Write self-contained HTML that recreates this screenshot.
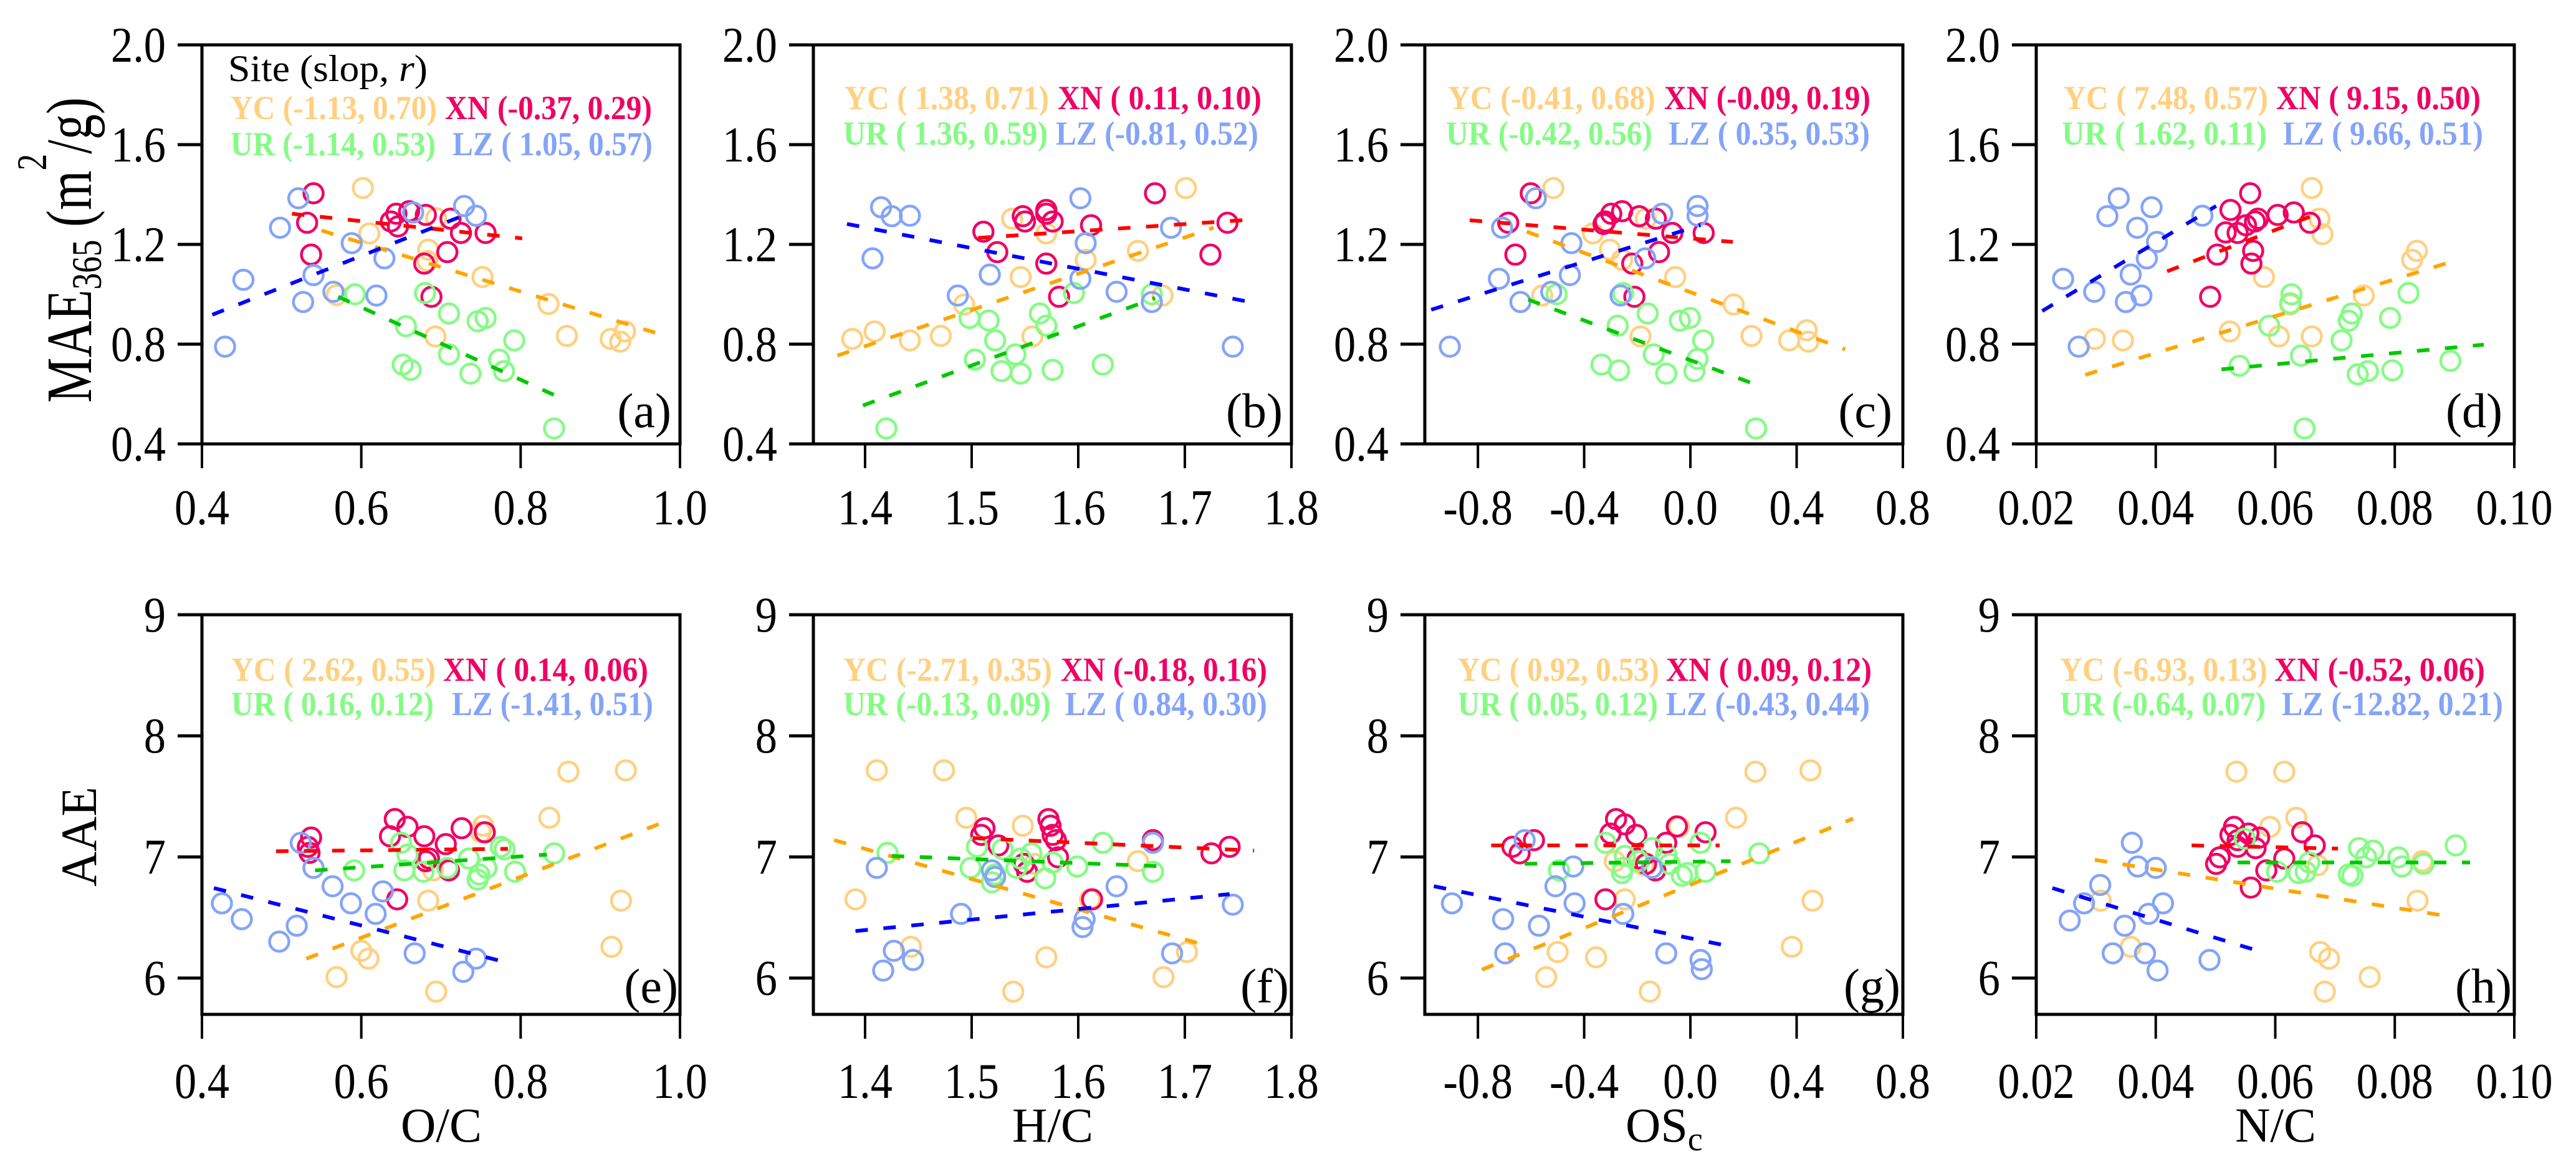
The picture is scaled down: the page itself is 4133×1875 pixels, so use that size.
<!DOCTYPE html>
<html><head><meta charset="utf-8"><style>
html,body{margin:0;padding:0;background:#fff}
svg{display:block}
svg text{font-family:"Liberation Serif","DejaVu Serif",serif}
</style></head><body>
<svg id="fig" xmlns="http://www.w3.org/2000/svg" width="4133" height="1875" viewBox="0 0 4133 1875" font-family="Liberation Serif, DejaVu Serif, serif">
<rect width="4133" height="1875" fill="#fff"/>
<g id="ytitle1" transform="translate(146,401) rotate(-90)">
<text id="maeTitle" text-anchor="middle" font-size="104" fill="#000">MAE<tspan font-size="68" dy="16">365</tspan><tspan dy="-16"> (m</tspan><tspan font-size="68" dy="-72">2</tspan><tspan dy="72">/g)</tspan></text>
</g>
<text transform="translate(154,1342) rotate(-90)" text-anchor="middle" font-size="82" textLength="160" lengthAdjust="spacingAndGlyphs">AAE</text>
<text x="708" y="1831" text-anchor="middle" font-size="78">O/C</text>
<text x="1689" y="1831" text-anchor="middle" font-size="78">H/C</text>
<text x="2670" y="1831" text-anchor="middle" font-size="78">OS<tspan font-size="54" dy="14">c</tspan></text>
<text x="3651" y="1831" text-anchor="middle" font-size="78">N/C</text>
<text x="366" y="130" font-size="60" textLength="320" lengthAdjust="spacingAndGlyphs">Site (slop, <tspan font-style="italic">r</tspan>)</text>
</svg>
<script>
const a_YC_x=[0.602,0.610,0.694,0.684,0.683,0.752,0.835,0.858,0.913,0.925,0.931,0.569,0.693];
const a_YC_y=[1.426,1.244,1.305,1.179,1.133,1.069,0.961,0.833,0.821,0.810,0.851,0.997,0.831];
const a_XN_x=[0.540,0.532,0.537,0.637,0.644,0.646,0.660,0.681,0.712,0.725,0.756,0.708,0.679,0.688];
const a_XN_y=[1.405,1.287,1.159,1.292,1.323,1.272,1.333,1.318,1.303,1.246,1.246,1.169,1.123,0.990];
const a_UR_x=[0.592,0.680,0.710,0.746,0.756,0.656,0.792,0.710,0.652,0.662,0.737,0.773,0.779,0.842];
const a_UR_y=[1.000,1.005,0.923,0.892,0.905,0.872,0.815,0.759,0.718,0.697,0.682,0.738,0.692,0.462];
const a_LZ_x=[0.521,0.498,0.588,0.629,0.540,0.452,0.527,0.565,0.619,0.429,0.729,0.744,0.665];
const a_LZ_y=[1.385,1.267,1.205,1.144,1.077,1.058,0.969,1.010,0.995,0.790,1.354,1.315,1.328];
const a_fit_YC=[0.550,1.256,0.979,0.836];
const a_fit_XN=[0.513,1.323,0.802,1.224];
const a_fit_UR=[0.571,0.990,0.856,0.576];
const a_fit_LZ=[0.413,0.918,0.738,1.328];
const b_YC_x=[1.701,1.538,1.570,1.656,1.607,1.546,1.679,1.493,1.388,1.409,1.442,1.471,1.557];
const b_YC_y=[1.426,1.303,1.244,1.174,1.138,1.069,0.995,0.959,0.821,0.851,0.815,0.833,0.831];
const b_XN_x=[1.511,1.548,1.550,1.570,1.570,1.576,1.612,1.672,1.740,1.524,1.570,1.724,1.582];
const b_XN_y=[1.251,1.313,1.292,1.338,1.323,1.292,1.277,1.405,1.287,1.169,1.123,1.159,0.990];
const b_UR_x=[1.596,1.669,1.564,1.570,1.498,1.516,1.522,1.541,1.503,1.528,1.546,1.576,1.623,1.420];
const b_UR_y=[1.005,1.000,0.923,0.874,0.905,0.895,0.815,0.759,0.738,0.692,0.682,0.697,0.718,0.462];
const b_LZ_x=[1.415,1.425,1.442,1.407,1.602,1.607,1.687,1.517,1.487,1.602,1.636,1.669,1.745];
const b_LZ_y=[1.349,1.313,1.315,1.144,1.385,1.205,1.267,1.079,0.995,1.062,1.010,0.969,0.790];
const b_fit_YC=[1.374,0.754,1.727,1.267];
const b_fit_XN=[1.506,1.226,1.754,1.297];
const b_fit_UR=[1.398,0.554,1.672,0.985];
const b_fit_LZ=[1.383,1.282,1.761,0.969];
const c_YC_x=[-0.516,-0.367,-0.168,-0.303,-0.257,-0.057,0.163,0.230,0.372,0.444,0.438,-0.558,-0.188];
const c_YC_y=[1.426,1.244,1.303,1.179,1.138,1.069,0.959,0.833,0.815,0.810,0.856,0.995,0.831];
const c_XN_x=[-0.601,-0.686,-0.659,-0.321,-0.298,-0.257,-0.193,-0.130,-0.068,0.050,-0.118,-0.219,-0.211,-0.327];
const c_XN_y=[1.405,1.287,1.159,1.292,1.323,1.333,1.313,1.303,1.246,1.246,1.169,1.123,0.990,1.282];
const c_UR_x=[-0.254,-0.504,-0.161,-0.040,-0.002,-0.274,0.048,-0.138,-0.335,-0.269,-0.091,0.027,0.015,0.247];
const c_UR_y=[1.005,1.000,0.923,0.894,0.905,0.874,0.815,0.759,0.718,0.695,0.682,0.741,0.692,0.462];
const c_LZ_x=[-0.582,-0.709,-0.448,-0.170,-0.454,-0.721,-0.640,-0.524,-0.263,-0.906,0.027,0.027,-0.106];
const c_LZ_y=[1.385,1.267,1.205,1.144,1.077,1.062,0.969,1.010,0.995,0.790,1.354,1.315,1.323];
const c_fit_YC=[-0.616,1.251,0.583,0.779];
const c_fit_XN=[-0.831,1.297,0.160,1.210];
const c_fit_UR=[-0.611,0.979,0.276,0.626];
const c_fit_LZ=[-0.976,0.938,0.038,1.277];
const d_YC_x=[0.0661,0.0674,0.0679,0.0837,0.0829,0.0581,0.0748,0.0625,0.0524,0.0661,0.0606,0.0298,0.0345];
const d_YC_y=[1.426,1.303,1.241,1.174,1.138,1.069,0.995,0.959,0.851,0.831,0.831,0.821,0.815];
const d_XN_x=[0.0558,0.0525,0.0517,0.0537,0.0551,0.0566,0.0571,0.0604,0.0631,0.0658,0.0503,0.0563,0.0560,0.0491];
const d_XN_y=[1.405,1.338,1.248,1.246,1.277,1.292,1.303,1.318,1.328,1.287,1.159,1.174,1.123,0.990];
const d_UR_x=[0.0627,0.0625,0.0728,0.0723,0.0823,0.0792,0.0590,0.0711,0.0643,0.0540,0.0738,0.0755,0.0796,0.0893,0.0649];
const d_UR_y=[1.000,0.964,0.923,0.894,1.005,0.905,0.874,0.815,0.754,0.713,0.679,0.692,0.695,0.733,0.462];
const d_LZ_x=[0.0338,0.0319,0.0393,0.0369,0.0402,0.0385,0.0478,0.0358,0.0245,0.0297,0.0350,0.0376,0.0271];
const d_LZ_y=[1.385,1.313,1.349,1.267,1.210,1.144,1.315,1.079,1.062,1.010,0.969,0.995,0.790];
const d_fit_YC=[0.0282,0.677,0.0905,1.138];
const d_fit_XN=[0.0419,1.092,0.0671,1.323];
const d_fit_UR=[0.0510,0.699,0.0949,0.798];
const d_fit_LZ=[0.0210,0.933,0.0501,1.354];
const e_YC_x=[0.860,0.932,0.836,0.753,0.684,0.926,0.914,0.600,0.609,0.569,0.694,0.750,0.690];
const e_YC_y=[7.704,7.715,7.324,7.258,6.639,6.639,6.258,6.225,6.160,6.008,5.888,7.204,6.889];
const e_XN_x=[0.537,0.533,0.535,0.636,0.642,0.658,0.679,0.706,0.726,0.755,0.685,0.681,0.710,0.645];
const e_XN_y=[7.160,7.084,7.034,7.171,7.313,7.248,7.171,7.106,7.237,7.204,6.987,6.965,6.889,6.650];
const e_UR_x=[0.775,0.842,0.591,0.654,0.678,0.708,0.735,0.748,0.757,0.793,0.780,0.650,0.658,0.746];
const e_UR_y=[7.084,7.030,6.889,6.889,6.878,6.910,6.987,6.856,6.910,6.878,7.063,7.117,7.019,6.813];
const e_LZ_x=[0.524,0.540,0.564,0.425,0.450,0.587,0.627,0.519,0.497,0.618,0.667,0.728,0.744];
const e_LZ_y=[7.117,6.910,6.758,6.617,6.486,6.617,6.715,6.432,6.301,6.530,6.204,6.051,6.160];
const e_fit_YC=[0.531,6.160,0.990,7.313];
const e_fit_XN=[0.493,7.047,0.784,7.067];
const e_fit_UR=[0.542,6.889,0.833,7.019];
const e_fit_LZ=[0.415,6.743,0.777,6.138];
const f_YC_x=[1.411,1.474,1.495,1.548,1.656,1.559,1.391,1.611,1.443,1.702,1.570,1.680,1.539];
const f_YC_y=[7.715,7.715,7.324,7.258,6.965,6.943,6.650,6.650,6.258,6.215,6.171,6.008,5.888];
const f_XN_x=[1.512,1.509,1.525,1.572,1.574,1.576,1.579,1.670,1.725,1.742,1.549,1.552,1.581,1.613];
const f_XN_y=[7.237,7.182,7.095,7.313,7.258,7.182,7.139,7.139,7.030,7.084,6.943,6.878,6.997,6.650];
const f_UR_x=[1.421,1.505,1.529,1.623,1.499,1.522,1.546,1.576,1.599,1.670,1.569,1.519,1.556,1.542];
const f_UR_y=[7.034,7.084,7.063,7.117,6.910,6.856,6.987,6.954,6.921,6.878,6.824,6.791,7.030,6.910];
const f_LZ_x=[1.411,1.490,1.519,1.522,1.636,1.606,1.604,1.670,1.745,1.688,1.427,1.445,1.417];
const f_LZ_y=[6.910,6.530,6.889,6.834,6.758,6.486,6.421,7.117,6.606,6.204,6.225,6.149,6.062];
const f_fit_YC=[1.371,7.139,1.720,6.269];
const f_fit_XN=[1.501,7.156,1.765,7.052];
const f_fit_UR=[1.425,7.008,1.684,6.921];
const f_fit_LZ=[1.391,6.388,1.742,6.693];
const g_YC_x=[0.245,0.452,0.172,-0.043,-0.247,0.460,0.382,-0.500,-0.355,-0.543,-0.153,-0.285,-0.177];
const g_YC_y=[7.704,7.715,7.324,7.248,6.650,6.639,6.258,6.215,6.171,6.008,5.888,6.965,6.932];
const g_XN_x=[-0.670,-0.643,-0.589,-0.280,-0.247,-0.204,-0.301,-0.091,-0.051,0.057,-0.167,-0.132,-0.199,-0.320];
const g_XN_y=[7.084,7.030,7.139,7.313,7.269,7.182,7.193,7.117,7.252,7.204,6.943,6.889,6.987,6.650];
const g_UR_x=[-0.320,0.038,0.259,-0.247,-0.145,-0.091,-0.078,-0.495,-0.253,-0.011,0.057,-0.032,-0.258,-0.194];
const g_UR_y=[7.117,7.117,7.030,7.008,7.073,7.019,6.943,6.889,6.910,6.867,6.878,6.845,6.867,6.965];
const g_LZ_x=[-0.624,-0.898,-0.705,-0.570,-0.508,-0.441,-0.436,-0.253,-0.697,-0.091,0.038,0.043,-0.145];
const g_LZ_y=[7.139,6.617,6.486,6.432,6.758,6.921,6.617,6.530,6.204,6.204,6.149,6.073,6.910];
const g_fit_YC=[-0.785,6.069,0.613,7.317];
const g_fit_XN=[-0.750,7.095,0.110,7.095];
const g_fit_UR=[-0.624,6.943,0.151,6.965];
const g_fit_LZ=[-0.966,6.758,0.124,6.273];
const h_YC_x=[0.0535,0.0615,0.0635,0.0591,0.0846,0.0671,0.0838,0.0308,0.0675,0.0690,0.0358,0.0758,0.0683];
const h_YC_y=[7.704,7.704,7.324,7.248,6.965,6.932,6.639,6.639,6.215,6.160,6.258,6.008,5.888];
const h_XN_x=[0.0531,0.0525,0.0555,0.0573,0.0567,0.0645,0.0666,0.0507,0.0501,0.0615,0.0585,0.0559,0.0537,0.0537];
const h_XN_y=[7.248,7.182,7.193,7.160,7.073,7.204,7.095,6.997,6.943,6.987,6.889,6.747,7.084,7.139];
const h_UR_x=[0.0549,0.0902,0.0740,0.0764,0.0752,0.0806,0.0812,0.0848,0.0657,0.0651,0.0603,0.0639,0.0723,0.0729];
const h_UR_y=[7.150,7.095,7.073,7.052,6.997,6.997,6.921,6.943,6.954,6.878,6.878,6.867,6.856,6.845];
const h_LZ_x=[0.0360,0.0370,0.0400,0.0307,0.0280,0.0256,0.0348,0.0388,0.0412,0.0328,0.0382,0.0403,0.0490];
const h_LZ_y=[7.117,6.921,6.910,6.769,6.617,6.475,6.432,6.530,6.617,6.204,6.204,6.062,6.149];
const h_fit_YC=[0.0298,6.976,0.0878,6.519];
const h_fit_XN=[0.0460,7.095,0.0705,7.069];
const h_fit_UR=[0.0537,6.954,0.0926,6.954];
const h_fit_LZ=[0.0227,6.743,0.0571,6.225];

const xTicksOC=[0.4,0.6,0.8,1.0];
const xTickLabelsOC=["0.4","0.6","0.8","1.0"];
const xTicksHC=[1.4,1.5,1.6,1.7,1.8];
const xTickLabelsHC=["1.4","1.5","1.6","1.7","1.8"];
const xTicksOS=[-0.8,-0.4,0.0,0.4,0.8];
const xTickLabelsOS=["-0.8","-0.4","0.0","0.4","0.8"];
const xTicksNC=[0.02,0.04,0.06,0.08,0.10];
const xTickLabelsNC=["0.02","0.04","0.06","0.08","0.10"];
const yTicksMAE=[0.4,0.8,1.2,1.6,2.0];
const yTickLabelsMAE=["0.4","0.8","1.2","1.6","2.0"];
const yTicksAAE=[6,7,8,9];
const yTickLabelsAAE=["6","7","8","9"];

const legendA=["YC (-1.13, 0.70)","XN (-0.37, 0.29)","UR (-1.14, 0.53)","LZ ( 1.05, 0.57)"];
const legendB=["YC ( 1.38, 0.71)","XN ( 0.11, 0.10)","UR ( 1.36, 0.59)","LZ (-0.81, 0.52)"];
const legendC=["YC (-0.41, 0.68)","XN (-0.09, 0.19)","UR (-0.42, 0.56)","LZ ( 0.35, 0.53)"];
const legendD=["YC ( 7.48, 0.57)","XN ( 9.15, 0.50)","UR ( 1.62, 0.11)","LZ ( 9.66, 0.51)"];
const legendE=["YC ( 2.62, 0.55)","XN ( 0.14, 0.06)","UR ( 0.16, 0.12)","LZ (-1.41, 0.51)"];
const legendF=["YC (-2.71, 0.35)","XN (-0.18, 0.16)","UR (-0.13, 0.09)","LZ ( 0.84, 0.30)"];
const legendG=["YC ( 0.92, 0.53)","XN ( 0.09, 0.12)","UR ( 0.05, 0.12)","LZ (-0.43, 0.44)"];
const legendH=["YC (-6.93, 0.13)","XN (-0.52, 0.06)","UR (-0.64, 0.07)","LZ (-12.82, 0.21)"];

const NS="http://www.w3.org/2000/svg";
const svg=document.getElementById('fig');
const SITES=["YC","XN","UR","LZ"];
const PT_COL={YC:"#FFD080",XN:"#F00062",UR:"#84FC84",LZ:"#84A4F8"};
const LN_COL={YC:"#FFA500",XN:"#FF0000",UR:"#00C800",LZ:"#0000FF"};
function mk(tag,attrs,parent){const e=document.createElementNS(NS,tag);for(const k in attrs)e.setAttribute(k,attrs[k]);(parent||svg).appendChild(e);return e;}
function squeeze(t,f){try{const w=t.getComputedTextLength();if(w>0){t.setAttribute('textLength',(w*f).toFixed(1));t.setAttribute('lengthAdjust','spacingAndGlyphs');}}catch(e){}}

// fit MAE title to measured span
(function(){const t=document.getElementById('maeTitle');try{const w=t.getComputedTextLength();if(w>0){t.parentNode.setAttribute('transform','translate(146,401) rotate(-90) scale('+(490/w).toFixed(3)+',1)');}}catch(e){}})();

const W=767;
const panels=[
 {id:"a",left:324,top:72,bottom:712,xr:[0.4,1.0],yr:[0.4,2.0],xt:xTicksOC,xl:xTickLabelsOC,yt:yTicksMAE,yl:yTickLabelsMAE,leg:legendA,ly:[191,249],lx:[[370,701],[714,1046],[370,699],[726,1047]],pl:[1077,685],
  pts:{YC:[a_YC_x,a_YC_y],XN:[a_XN_x,a_XN_y],UR:[a_UR_x,a_UR_y],LZ:[a_LZ_x,a_LZ_y]},fit:{YC:a_fit_YC,XN:a_fit_XN,UR:a_fit_UR,LZ:a_fit_LZ}},
 {id:"b",left:1305,top:72,bottom:712,xr:[1.3515,1.8],yr:[0.4,2.0],xt:xTicksHC,xl:xTickLabelsHC,yt:yTicksMAE,yl:yTickLabelsMAE,leg:legendB,ly:[175,232],lx:[[1355,1683],[1697,2024],[1353,1681],[1694,2019]],pl:[2058,685],
  pts:{YC:[b_YC_x,b_YC_y],XN:[b_XN_x,b_XN_y],UR:[b_UR_x,b_UR_y],LZ:[b_LZ_x,b_LZ_y]},fit:{YC:b_fit_YC,XN:b_fit_XN,UR:b_fit_UR,LZ:b_fit_LZ}},
 {id:"c",left:2286,top:72,bottom:712,xr:[-1.0,0.8],yr:[0.4,2.0],xt:xTicksOS,xl:xTickLabelsOS,yt:yTicksMAE,yl:yTickLabelsMAE,leg:legendC,ly:[175,232],lx:[[2323,2656],[2670,3001],[2320,2651],[2677,3000]],pl:[3036,685],
  pts:{YC:[c_YC_x,c_YC_y],XN:[c_XN_x,c_XN_y],UR:[c_UR_x,c_UR_y],LZ:[c_LZ_x,c_LZ_y]},fit:{YC:c_fit_YC,XN:c_fit_XN,UR:c_fit_UR,LZ:c_fit_LZ}},
 {id:"d",left:3267,top:72,bottom:712,xr:[0.02,0.10],yr:[0.4,2.0],xt:xTicksNC,xl:xTickLabelsNC,yt:yTicksMAE,yl:yTickLabelsMAE,leg:legendD,ly:[175,232],lx:[[3311,3639],[3652,3980],[3308,3637],[3663,3984]],pl:[4015,685],
  pts:{YC:[d_YC_x,d_YC_y],XN:[d_XN_x,d_XN_y],UR:[d_UR_x,d_UR_y],LZ:[d_LZ_x,d_LZ_y]},fit:{YC:d_fit_YC,XN:d_fit_XN,UR:d_fit_UR,LZ:d_fit_LZ}},
 {id:"e",left:324,top:986,bottom:1627,xr:[0.4,1.0],yr:[5.7,9.0],xt:xTicksOC,xl:xTickLabelsOC,yt:yTicksAAE,yl:yTickLabelsAAE,leg:legendE,ly:[1092,1147],lx:[[371,699],[711,1040],[371,696],[725,1048]],pl:[1088,1608],
  pts:{YC:[e_YC_x,e_YC_y],XN:[e_XN_x,e_XN_y],UR:[e_UR_x,e_UR_y],LZ:[e_LZ_x,e_LZ_y]},fit:{YC:e_fit_YC,XN:e_fit_XN,UR:e_fit_UR,LZ:e_fit_LZ}},
 {id:"f",left:1305,top:986,bottom:1627,xr:[1.3515,1.8],yr:[5.7,9.0],xt:xTicksHC,xl:xTickLabelsHC,yt:yTicksAAE,yl:yTickLabelsAAE,leg:legendF,ly:[1092,1147],lx:[[1353,1688],[1702,2033],[1353,1686],[1709,2033]],pl:[2068,1608],
  pts:{YC:[f_YC_x,f_YC_y],XN:[f_XN_x,f_XN_y],UR:[f_UR_x,f_UR_y],LZ:[f_LZ_x,f_LZ_y]},fit:{YC:f_fit_YC,XN:f_fit_XN,UR:f_fit_UR,LZ:f_fit_LZ}},
 {id:"g",left:2286,top:986,bottom:1627,xr:[-1.0,0.8],yr:[5.7,9.0],xt:xTicksOS,xl:xTickLabelsOS,yt:yTicksAAE,yl:yTickLabelsAAE,leg:legendG,ly:[1092,1147],lx:[[2339,2662],[2673,3003],[2339,2660],[2673,3000]],pl:[3049,1608],
  pts:{YC:[g_YC_x,g_YC_y],XN:[g_XN_x,g_XN_y],UR:[g_UR_x,g_UR_y],LZ:[g_LZ_x,g_LZ_y]},fit:{YC:g_fit_YC,XN:g_fit_XN,UR:g_fit_UR,LZ:g_fit_LZ}},
 {id:"h",left:3267,top:986,bottom:1627,xr:[0.02,0.10],yr:[5.7,9.0],xt:xTicksNC,xl:xTickLabelsNC,yt:yTicksAAE,yl:yTickLabelsAAE,leg:legendH,ly:[1092,1147],lx:[[3305,3638],[3649,3987],[3305,3635],[3661,4016]],pl:[4030,1608],
  pts:{YC:[h_YC_x,h_YC_y],XN:[h_XN_x,h_XN_y],UR:[h_UR_x,h_UR_y],LZ:[h_LZ_x,h_LZ_y]},fit:{YC:h_fit_YC,XN:h_fit_XN,UR:h_fit_UR,LZ:h_fit_LZ}}
];

panels.forEach(p=>{
  const sx=v=>p.left+(v-p.xr[0])/(p.xr[1]-p.xr[0])*W;
  const sy=v=>p.bottom-(v-p.yr[0])/(p.yr[1]-p.yr[0])*(p.bottom-p.top);
  const g=mk('g',{});
  
  
  const cp=mk('clipPath',{id:'clip-'+p.id},g);
  mk('rect',{x:p.left,y:p.top,width:W,height:p.bottom-p.top},cp);
  SITES.forEach(s=>{
    const [xs,ys]=p.pts[s];
    const sg=mk('g',{'clip-path':'url(#clip-'+p.id+')'},g);
    
    
    xs.forEach((xv,i)=>{
      const c=mk('circle',{cx:sx(xv).toFixed(1),cy:sy(ys[i]).toFixed(1),r:15.5,fill:'none',stroke:PT_COL[s],'stroke-width':4.5},sg);
      
      
    });
  });
  SITES.forEach(s=>{
    const f=p.fit[s];
    const l=mk('line',{x1:sx(f[0]),y1:sy(f[1]),x2:sx(f[2]),y2:sy(f[3]),stroke:LN_COL[s],'stroke-width':6,'stroke-dasharray':'20 25'},g);
    
    
  });
  const fr=mk('rect',{x:p.left,y:p.top,width:W,height:p.bottom-p.top,fill:'none',stroke:'#000','stroke-width':5},g);
  
  
  p.xt.forEach((t,i)=>{
    const x=sx(t);
    const tk=mk('line',{x1:x,y1:p.bottom,x2:x,y2:p.bottom+39,stroke:'#000','stroke-width':4},g);
    
    
    const tl=mk('text',{x:x,y:p.bottom+(p.top<500?129:134),'text-anchor':'middle','font-size':80},g);
    tl.textContent=p.xl[i];
    
    
    squeeze(tl,0.88);
  });
  p.yt.forEach((t,i)=>{
    const y=sy(t);
    const tk=mk('line',{x1:p.left-39,y1:y,x2:p.left,y2:y,stroke:'#000','stroke-width':5},g);
    
    
    const tl=mk('text',{x:p.left-58,y:y+27,'text-anchor':'end','font-size':80},g);
    tl.textContent=p.yl[i];
    
    
    squeeze(tl,0.88);
  });
  p.leg.forEach((txt,i)=>{
    const s=SITES[i];
    const t=mk('text',{x:p.lx[i][0],y:p.ly[i<2?0:1],'font-size':54,'font-weight':'bold',fill:PT_COL[s],textLength:p.lx[i][1]-p.lx[i][0],lengthAdjust:'spacingAndGlyphs',style:'white-space:pre'},g);
    t.textContent=txt;
    
    
  });
  const pl=mk('text',{x:p.pl[0],y:p.pl[1],'text-anchor':'end','font-size':78},g);
  pl.textContent='('+p.id+')';
  
  
});
</script>
</body></html>
